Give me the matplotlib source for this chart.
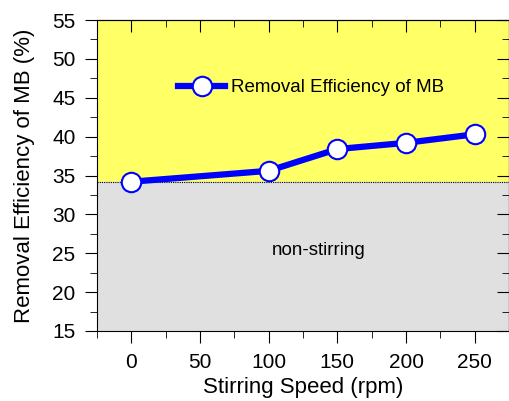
import matplotlib
matplotlib.use("Agg")
import matplotlib.pyplot as plt
from matplotlib.ticker import MultipleLocator

plt.rcParams['font.family'] = ['Liberation Sans', 'DejaVu Sans']

speed = [0, 100, 150, 200, 250]
efficiency = [34.2, 35.6, 38.4, 39.2, 40.3]
baseline = 34.2

fig = plt.figure(figsize=(5.10, 4.01), dpi=100)
ax = fig.add_axes([97 / 510, 70 / 401, 412 / 510, 311 / 401])

ax.set_xlim(-25, 275)
ax.set_ylim(15, 55)

# background bands
ax.axhspan(baseline, 55, color='#FFFF66', zorder=0)
ax.axhspan(15, baseline, color='#E0E0E0', zorder=0)
ax.axhline(baseline, color='black', lw=0.8, ls=(0, (1, 1)), zorder=1)

ax.plot(speed, efficiency, color='#0000FF', lw=4.5, marker='o', ms=14,
        mfc='white', mec='#0000FF', mew=1.5, label='Removal Efficiency of MB', zorder=3)

ax.text(136.5, 25.4, 'non-stirring', fontsize=13.5, ha='center', va='center')

ax.legend(loc='center left', bbox_to_anchor=(0.197, 0.782), frameon=False,
          fontsize=13.5, handlelength=2.5, handletextpad=0.3,
          borderpad=0, borderaxespad=0)

ax.set_xticks([0, 50, 100, 150, 200, 250])
ax.set_yticks(range(15, 56, 5))
ax.xaxis.set_minor_locator(MultipleLocator(25))
ax.yaxis.set_minor_locator(MultipleLocator(2.5))
ax.tick_params(which='both', direction='out', top=False, right=False, labelsize=15, pad=7)
ax.tick_params(which='major', length=8.5)
ax.tick_params(which='minor', length=5)

ax2 = ax.secondary_xaxis('top')
ax2.set_xticks([0, 50, 100, 150, 200, 250])
ax2.xaxis.set_minor_locator(MultipleLocator(25))
ax2.tick_params(which='both', direction='in', labeltop=False)
ax2.tick_params(which='major', length=8.5)
ax2.tick_params(which='minor', length=5)
ay2 = ax.secondary_yaxis('right')
ay2.set_yticks(range(15, 56, 5))
ay2.yaxis.set_minor_locator(MultipleLocator(2.5))
ay2.tick_params(which='both', direction='in', labelright=False)
ay2.tick_params(which='major', length=8.5)
ay2.tick_params(which='minor', length=5)

ax.set_xlabel('Stirring Speed (rpm)', fontsize=16, labelpad=4)
ax.set_ylabel('Removal Efficiency of MB (%)', fontsize=16, labelpad=12)

fig.savefig('out.png', dpi=100)
